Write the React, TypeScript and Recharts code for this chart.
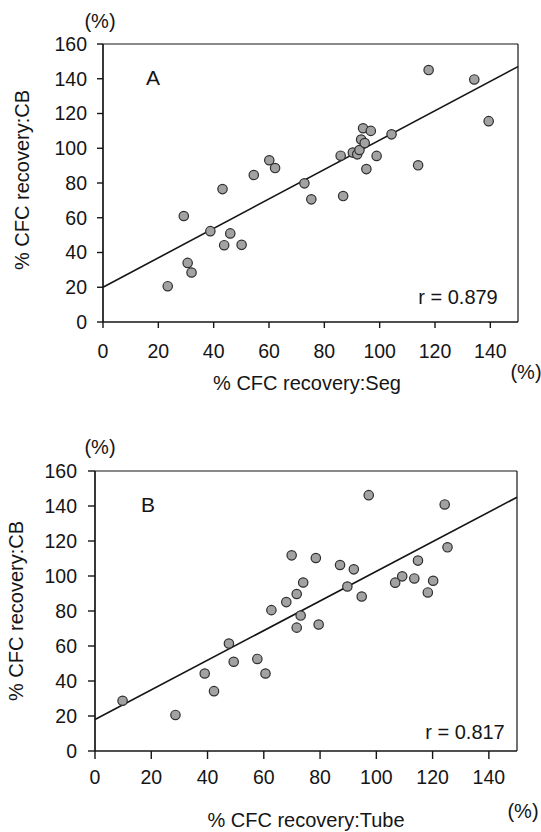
import React from 'react';
import { ScatterChart, Scatter, XAxis, YAxis, ReferenceLine } from 'recharts';

// panel A: % CFC recovery, Seg (x) vs CB (y)
const segA = [23.4, 29.2, 30.6, 32, 38.8, 43.2, 43.8, 46, 50.1, 54.5, 60.1, 62.2, 72.8, 75.3, 85.9, 86.8, 90.3, 91.9, 92.7, 93.3, 94, 94.6, 95.2, 96.8, 98.9, 104.3, 113.9, 117.7, 134.2, 139.4];
const cbA = [20.6, 61, 34, 28.5, 52.3, 76.5, 44.2, 51, 44.4, 84.6, 93.1, 88.6, 79.8, 70.6, 95.7, 72.5, 97.5, 96.5, 99, 105, 111.5, 103, 88, 110, 95.6, 108, 90.2, 145, 139.6, 115.6];
const fitA = [[0, 20], [150, 147]];

// panel B: % CFC recovery, Tube (x) vs CB (y)
const tubeB = [9.8, 28.6, 39, 42.3, 47.6, 49.3, 57.7, 60.6, 62.7, 68, 69.9, 71.7, 71.7, 73.1, 74, 78.5, 79.5, 87.1, 89.7, 92, 94.8, 97.3, 106.7, 109.2, 113.5, 114.8, 118.3, 120.2, 124.3, 125.3];
const cbB = [28.7, 20.6, 44.3, 34.2, 61.4, 51, 52.6, 44.3, 80.5, 85.1, 111.8, 89.7, 70.5, 77.4, 96.3, 110.3, 72.3, 106.3, 94, 103.8, 88.3, 146.2, 96.2, 99.8, 98.6, 108.8, 90.6, 97.3, 140.9, 116.4];
const fitB = [[0, 18], [150, 145]];

const xTicks = [0, 20, 40, 60, 80, 100, 120, 140];
const yTicks = [0, 20, 40, 60, 80, 100, 120, 140, 160];

const FONT = '"Liberation Sans", Arial, Helvetica, sans-serif';
const INK = '#151515';

const toPoints = (xs: number[], ys: number[]) => xs.map((x, i) => ({ x, y: ys[i] }));

const Dot = (props: any) => (
  <circle cx={props.cx} cy={props.cy} r={4.7} fill="#a2a2a2" stroke="#2e2e2e" strokeWidth={1.2} />
);

const Txt = ({ x, y, size = 20, rotate = 0, children }: any) => (
  <div
    style={{
      position: 'absolute',
      left: x,
      top: y,
      transform: `translate(-50%, -50%) rotate(${rotate}deg)`,
      whiteSpace: 'nowrap',
      fontFamily: FONT,
      fontSize: size,
      color: INK,
      lineHeight: 1,
    }}
  >
    {children}
  </div>
);

interface PanelProps {
  xs: number[];
  ys: number[];
  fit: number[][];
  height: number;
  margin: { top: number; right: number; bottom: number; left: number };
  yWidth: number;
  xTickSize: number;
  xTickMargin: number;
  yTickSize: number;
  yTickMargin: number;
}

const Panel: React.FC<PanelProps> = ({ xs, ys, fit, height, margin, yWidth, xTickSize, xTickMargin, yTickSize, yTickMargin }) => {
  const tickStyle = { fill: INK, fontSize: 19.5, fontFamily: FONT };
  return (
    <ScatterChart width={541} height={height} margin={margin}>
      <XAxis
        type="number"
        dataKey="x"
        domain={[0, 150]}
        ticks={xTicks}
        interval={0}
        height={40}
        tick={tickStyle}
        tickSize={xTickSize}
        tickMargin={xTickMargin}
        axisLine={{ stroke: INK, strokeWidth: 1.7 }}
        tickLine={{ stroke: INK, strokeWidth: 1.4 }}
      />
      <YAxis
        type="number"
        dataKey="y"
        domain={[0, 160]}
        ticks={yTicks}
        interval={0}
        width={yWidth}
        tick={tickStyle}
        tickSize={yTickSize}
        tickMargin={yTickMargin}
        axisLine={{ stroke: INK, strokeWidth: 1.7 }}
        tickLine={{ stroke: INK, strokeWidth: 1.4 }}
      />
      <ReferenceLine y={160} stroke={INK} strokeWidth={1.2} />
      <ReferenceLine x={150} stroke={INK} strokeWidth={1.2} />
      <ReferenceLine
        segment={[{ x: fit[0][0], y: fit[0][1] }, { x: fit[1][0], y: fit[1][1] }]}
        stroke={INK}
        strokeWidth={1.6}
      />
      <Scatter data={toPoints(xs, ys)} shape={Dot} isAnimationActive={false} />
    </ScatterChart>
  );
};

export default function App() {
  return (
    <div style={{ position: 'absolute', left: 0, top: 0, width: 541, height: 832, background: '#fff', overflow: 'hidden' }}>
      <div style={{ position: 'absolute', left: 0, top: 0 }}>
        <Panel
          xs={segA}
          ys={cbA}
          fit={fitA}
          height={410}
          margin={{ top: 44, right: 23, bottom: 48, left: 0 }}
          yWidth={103}
          xTickSize={6}
          xTickMargin={16}
          yTickSize={6}
          yTickMargin={10}
        />
      </div>
      <div style={{ position: 'absolute', left: 0, top: 420 }}>
        <Panel
          xs={tubeB}
          ys={cbB}
          fit={fitB}
          height={412}
          margin={{ top: 51, right: 24, bottom: 41, left: 0 }}
          yWidth={95}
          xTickSize={8}
          xTickMargin={11}
          yTickSize={7}
          yTickMargin={11}
        />
      </div>

      <Txt x={100} y={21}>(%)</Txt>
      <Txt x={153} y={77} size={21}>A</Txt>
      <Txt x={458} y={297}>r = 0.879</Txt>
      <Txt x={526} y={372}>(%)</Txt>
      <Txt x={307} y={383}>% CFC recovery:Seg</Txt>
      <Txt x={22} y={180} rotate={-90}>% CFC recovery:CB</Txt>

      <Txt x={100} y={447}>(%)</Txt>
      <Txt x={148} y={504} size={21}>B</Txt>
      <Txt x={465} y={732}>r = 0.817</Txt>
      <Txt x={523} y={811}>(%)</Txt>
      <Txt x={306} y={820}>% CFC recovery:Tube</Txt>
      <Txt x={16} y={611} rotate={-90}>% CFC recovery:CB</Txt>
    </div>
  );
}
